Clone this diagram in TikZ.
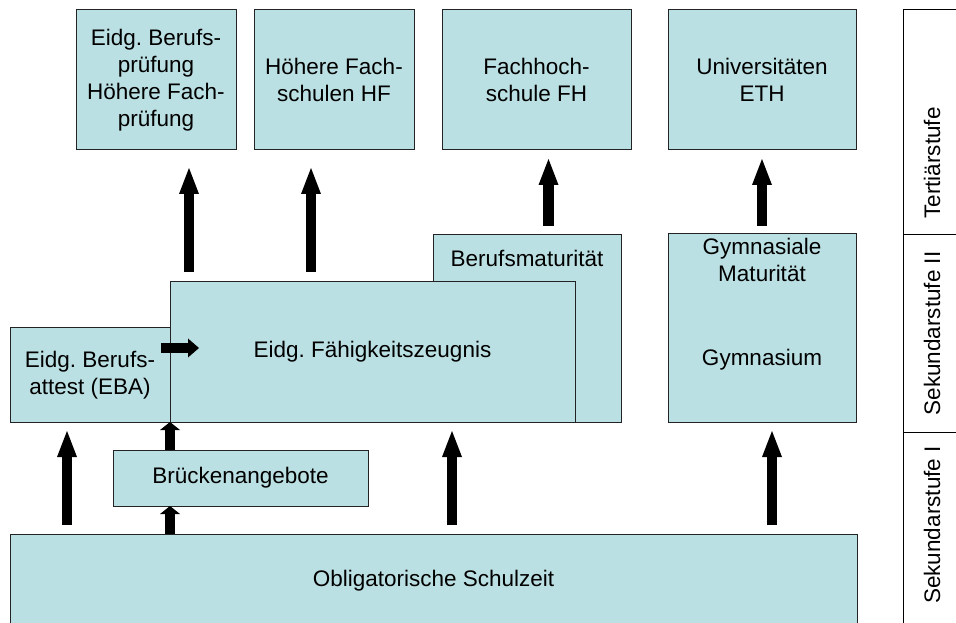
\documentclass[tikz,border=0pt]{standalone}
\usepackage{fontspec}
\setmainfont{Liberation Sans}
\usetikzlibrary{arrows.meta}
\definecolor{boxfill}{RGB}{187,224,227}
\definecolor{boxline}{RGB}{35,35,35}
\tikzset{
  box/.style={draw=boxline,fill=boxfill,line width=1pt,inner sep=0pt,outer sep=0pt,align=center},
  txt/.style={inner sep=0pt,align=center},
  bigarr/.style={-{Triangle[length=26pt,width=20pt,line width=0pt]},line width=10.5pt},
  smallarr/.style={-{Triangle[length=8pt,width=20pt,line width=0pt]},line width=10pt},
  sidearr/.style={-{Triangle[length=11pt,width=19pt,line width=0pt]},line width=10pt},
  stage/.style={rotate=90,anchor=base,inner sep=0pt},
  rule/.style={line width=1pt},
  every node/.style={font=\fontsize{22.5}{27}\selectfont\frenchspacing}
}

\begin{document}
\begin{tikzpicture}[x=1pt,y=1pt]
\useasboundingbox (0,0) rectangle (956,622);

% tertiary level
\node[box,minimum width=160,minimum height=140] (bprf) at (156,542) {Eidg. Berufs-\\prüfung\\Höhere Fach-\\prüfung};
\node[box,minimum width=160,minimum height=140] (hf) at (334,542) {Höhere Fach-\\schulen HF};
\node[box,minimum width=189,minimum height=140] (fh) at (536.5,542) {Fachhoch-\\schule FH};
\node[box,minimum width=188,minimum height=140] (uni) at (762,542) {Universitäten\\ETH};

% secondary level II
\node[box,minimum width=188,minimum height=187] (bm) at (527,293.5) {};
\node[txt,anchor=base] (bmtxt) at (527,355) {Berufsmaturität};
\node[box,minimum width=160,minimum height=94] (eba) at (90,247) {Eidg. Berufs-\\attest (EBA)};
\node[box,minimum width=405,minimum height=140] (efz) at (372.5,270) {Eidg. Fähigkeitszeugnis};
\node[box,minimum width=188,minimum height=188] (gym) at (762,294) {};
\node[txt,anchor=base] (gymmat) at (762,367) {Gymnasiale};
\node[txt,anchor=base] (gymmat2) at (762,340) {Maturität};
\node[txt,anchor=base] (gymtxt) at (762,257) {Gymnasium};

% secondary level I
\node[box,minimum width=255,minimum height=56] (bruecke) at (240.5,144) {Brückenangebote};
\node[box,minimum width=847,minimum height=94] (obl) at (433.5,41) {Obligatorische Schulzeit};

% arrow columns
\coordinate (c1) at (189,0);
\coordinate (c2) at (311,0);
\coordinate (c3) at (548.5,0);
\coordinate (c4) at (762,0);
\coordinate (c5) at (67,0);
\coordinate (c6) at (170,0);
\coordinate (c7) at (452,0);
\coordinate (c8) at (772,0);

\draw[bigarr,shorten <=10pt,shorten >=18pt] (efz.north -| c1) -- (bprf.south -| c1);
\draw[bigarr,shorten <=10pt,shorten >=18pt] (efz.north -| c2) -- (hf.south -| c2);
\draw[bigarr,shorten <=9pt,shorten >=9pt] (bm.north -| c3) -- (fh.south -| c3);
\draw[bigarr,shorten <=8pt,shorten >=9pt] (gym.north -| c4) -- (uni.south -| c4);

\draw[bigarr,shorten <=9pt,shorten >=9pt] (obl.north -| c5) -- (eba.south -| c5);
\draw[bigarr,shorten <=9pt,shorten >=9pt] (obl.north -| c7) -- (efz.south -| c7);
\draw[bigarr,shorten <=9pt,shorten >=9pt] (obl.north -| c8) -- (gym.south -| c8);

\draw[smallarr] (obl.north -| c6) -- (bruecke.south -| c6);
\draw[smallarr] (bruecke.north -| c6) -- (efz.south -| c6);

% EBA to EFZ
\coordinate (hin) at (161,274);
\coordinate (hout) at (199,274);
\draw[sidearr] (hin) -- (hout);

% levels on the right
\draw[rule] (903,612) -- (903,-5);
\draw[rule] (903,612) -- (960,612);
\draw[rule] (903,387) -- (960,387);
\draw[rule] (903,190) -- (960,190);
\node[stage] (ter) at (940,459) {Tertiärstufe};
\node[stage] (sek2) at (940,288.5) {Sekundarstufe II};
\node[stage] (sek1) at (940,97) {Sekundarstufe I};
\end{tikzpicture}
\end{document}
